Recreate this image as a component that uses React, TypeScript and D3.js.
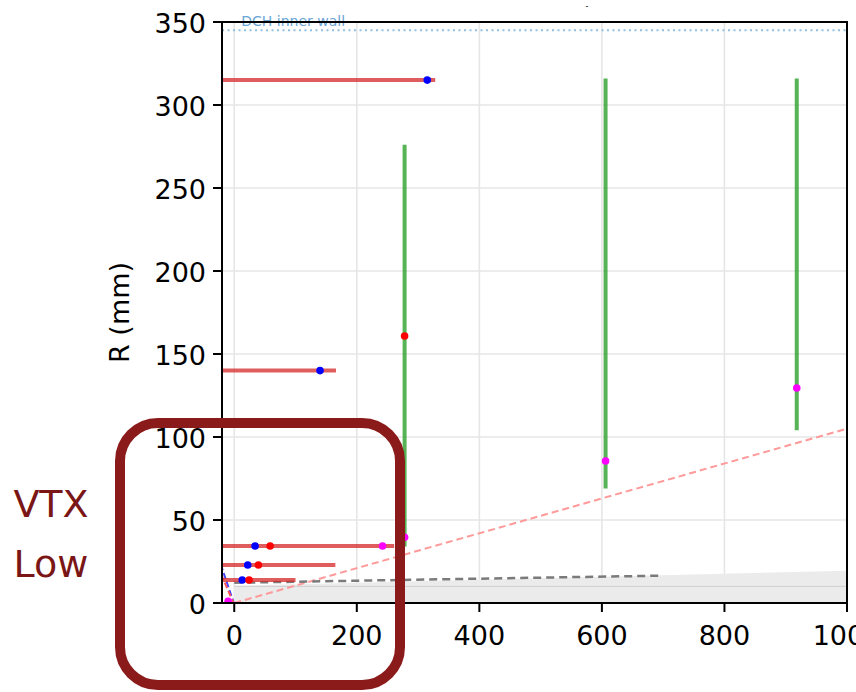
import React from "react";
import * as d3 from "d3";

// ---- data ----
const xTicks = [0, 200, 400, 600, 800, 1000];
const yTicks = [0, 50, 100, 150, 200, 250, 300, 350];

// horizontal (barrel-like) layers: radius and half-length
const barR = [315, 140, 34.3, 22.9, 13.9];
const barZmin = [-40, -40, -40, -40, -40];
const barZmax = [328, 166, 261, 165, 100];

// vertical (disk-like) layers
const diskZ = [278, 606, 918];
const diskRmin = [34, 69, 104];
const diskRmax = [276, 316, 316];

// points
const blueZ = [315, 140, 34, 22, 13];
const blueR = [315, 140, 34.3, 22.9, 13.9];
const redZ = [58.5, 39.4, 24.2, 278];
const redR = [34.3, 22.9, 13.9, 160.8];
const magZ = [242, 278, 606, 918, -10];
const magR = [34.3, 39.6, 85.5, 129.5, 1];

// reference lines
const wallR = 345;
const pinkLineZ = [0, 1000];
const pinkLineR = [0, 105];
const grayLineZ = [0, 700];
const grayLineR = [12.2, 16.5];
const pipeZ = [0, 1000];
const pipeR = [10.4, 19.5];
const pipeInnerR = 10;
const blueDashZ = [0, -20];
const blueDashR = [-0.8, 21];
const redDashZ = [0, -20];
const redDashR = [-1, 16];

export default function App() {
  const W = 856, H = 692;
  const x = d3.scaleLinear().domain([-20, 1000]).range([222, 847]);
  const y = d3.scaleLinear().domain([0, 350]).range([603, 22]);
  const x0 = x.range()[0], x1 = x.range()[1];
  const y0 = y.range()[0], y1 = y.range()[1];
  const font = "DejaVu Sans, sans-serif";
  const line = d3.line<[number, number]>().x(d => x(d[0])).y(d => y(d[1]));

  const pipeArea = d3.area<[number, number]>()
    .x(d => x(d[0])).y0(y(0)).y1(d => y(d[1]));

  return (
    <svg width={W} height={H} style={{ position: "absolute", left: 0, top: 0, background: "#fff" }}>
      <defs>
        <clipPath id="plotclip">
          <rect x={x0} y={y1} width={x1 - x0} height={y0 - y1} />
        </clipPath>
      </defs>
      {/* grid */}
      <g stroke="#e6e6e6" strokeWidth={1.6}>
        {xTicks.map(t => <line key={"gx" + t} x1={x(t)} x2={x(t)} y1={y1} y2={y0} />)}
        {yTicks.map(t => <line key={"gy" + t} x1={x0} x2={x1} y1={y(t)} y2={y(t)} />)}
      </g>
      <g clipPath="url(#plotclip)">
        {/* beam pipe */}
        <path d={pipeArea(pipeZ.map((z, i) => [z, pipeR[i]]) as [number, number][]) || ""} fill="#ebebeb" />
        <line x1={x(0)} x2={x1} y1={y(pipeInnerR)} y2={y(pipeInnerR)} stroke="#cfcfcf" strokeWidth={1} />
        {/* DCH wall */}
        <line x1={x0} x2={x1} y1={y(wallR)} y2={y(wallR)} stroke="#8fbfe0" strokeWidth={2} strokeDasharray="2,3.5" />
        {/* pink dashed */}
        <path d={line(pinkLineZ.map((z, i) => [z, pinkLineR[i]]) as [number, number][]) || ""} stroke="#ff9a9a" strokeWidth={2} strokeDasharray="7,4" fill="none" />
        {/* gray dashed */}
        <path d={line(grayLineZ.map((z, i) => [z, grayLineR[i]]) as [number, number][]) || ""} stroke="#7a7a7a" strokeWidth={2.5} strokeDasharray="8,5" fill="none" />
        {/* small dashed lines near origin */}
        <path d={line(blueDashZ.map((z, i) => [z, blueDashR[i]]) as [number, number][]) || ""} stroke="#4444ff" strokeWidth={2} strokeDasharray="6,3" fill="none" />
        <path d={line(redDashZ.map((z, i) => [z, redDashR[i]]) as [number, number][]) || ""} stroke="#ff5555" strokeWidth={2} strokeDasharray="6,3" fill="none" />
        {/* barrel layers */}
        {barR.map((r, i) => (
          <line key={"b" + i} x1={x(barZmin[i])} x2={x(barZmax[i])} y1={y(r)} y2={y(r)}
            stroke="#d62728" strokeOpacity={0.75} strokeWidth={4} />
        ))}
        {/* disk layers */}
        {diskZ.map((z, i) => (
          <line key={"d" + i} x1={x(z)} x2={x(z)} y1={y(diskRmin[i])} y2={y(diskRmax[i])}
            stroke="#2ca02c" strokeOpacity={0.8} strokeWidth={4} />
        ))}
        {/* points */}
        {blueZ.map((z, i) => <circle key={"pb" + i} cx={x(z)} cy={y(blueR[i])} r={3.8} fill="#0000ff" />)}
        {redZ.map((z, i) => <circle key={"pr" + i} cx={x(z)} cy={y(redR[i])} r={3.8} fill="#ff0000" />)}
        {magZ.map((z, i) => <circle key={"pm" + i} cx={x(z)} cy={y(magR[i])} r={3.8} fill="#ff00ff" />)}
      </g>
      {/* DCH label */}
      <text x={x(0) + 7} y={26} fontFamily={font} fontSize={14} fill="#6aa6d6">DCH inner wall</text>
      {/* spines */}
      <rect x={x0} y={y1} width={x1 - x0} height={y0 - y1} fill="none" stroke="#000" strokeWidth={2} />
      {/* ticks */}
      <g stroke="#000" strokeWidth={2}>
        {xTicks.map(t => <line key={"tx" + t} x1={x(t)} x2={x(t)} y1={y0} y2={y0 + 9} />)}
        {yTicks.map(t => <line key={"ty" + t} x1={x0} x2={x0 - 9} y1={y(t)} y2={y(t)} />)}
      </g>
      <g fontFamily={font} fontSize={27} fill="#000">
        {xTicks.map(t => <text key={"lx" + t} x={x(t)} y={y0 + 42} textAnchor="middle">{t}</text>)}
        {yTicks.map(t => <text key={"ly" + t} x={x0 - 16} y={y(t) + 11} textAnchor="end">{t}</text>)}
      </g>
      <text transform={`translate(129,${(y0 + y1) / 2}) rotate(-90)`} textAnchor="middle" fontFamily={font} fontSize={27}>R (mm)</text>
      <text x={587} y={9} fontFamily={font} fontSize={8} textAnchor="middle">-</text>
      {/* highlight box */}
      <rect x={120} y={423} width={280} height={262} rx={38} ry={38} fill="none" stroke="#8b1a1a" strokeWidth={10} />
      <g fontFamily={font} fontSize={38} fill="#7a1616" textAnchor="middle">
        <text x={51} y={517}>VTX</text>
        <text x={51} y={577}>Low</text>
      </g>
    </svg>
  );
}
